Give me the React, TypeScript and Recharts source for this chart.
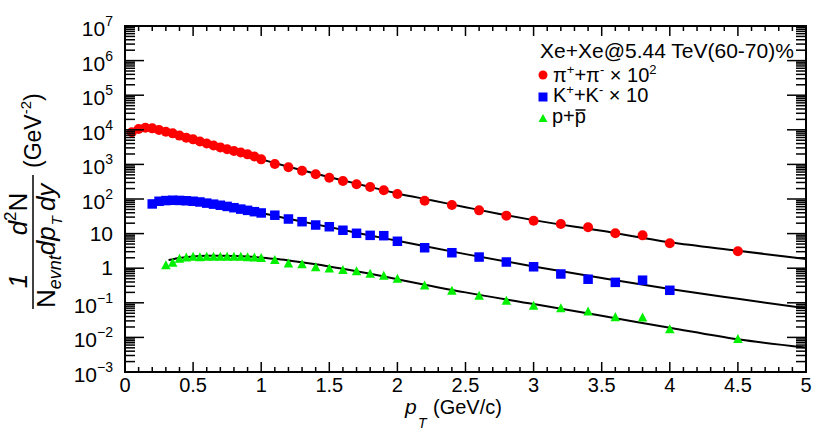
import React from "react";
import {
  ComposedChart,
  Scatter,
  Line,
  XAxis,
  YAxis,
  ReferenceArea,
} from "recharts";

// measured points, pT in GeV/c
const pionPt = [
  0.05, 0.1, 0.15, 0.2, 0.25, 0.3, 0.35, 0.4, 0.45, 0.5,
  0.55, 0.6, 0.65, 0.7, 0.75, 0.8, 0.85, 0.9, 0.95, 1.0,
  1.1, 1.2, 1.3, 1.4, 1.5, 1.6, 1.7, 1.8, 1.9, 2.0,
  2.2, 2.4, 2.6, 2.8, 3.0, 3.2, 3.4, 3.6, 3.8, 4.0, 4.5,
];
const pionVal = [
  8450, 10500, 11500, 11000, 9900, 8800, 7900, 6800, 5900, 5300,
  4600, 4000, 3500, 3100, 2750, 2450, 2200, 1950, 1700, 1400,
  1030, 824, 658, 518, 413, 331, 266, 222, 179, 140,
  89, 67, 47, 33, 23.6, 18.9, 15.2, 10.2, 8.9, 5.25, 3.08,
];

const kaonPt = [
  0.2, 0.25, 0.3, 0.35, 0.4, 0.45, 0.5, 0.55, 0.6, 0.65, 0.7, 0.75, 0.8, 0.85, 0.9, 0.95, 1.0,
  1.1, 1.2, 1.3, 1.4, 1.5, 1.6, 1.7, 1.8, 1.9, 2.0,
  2.2, 2.4, 2.6, 2.8, 3.0, 3.2, 3.4, 3.6, 3.8, 4.0,
];
const kaonVal = [
  72, 86, 90, 92, 91, 89, 86, 82, 76, 71, 66, 61, 56, 51, 47, 43, 39.5,
  34, 26.4, 22.1, 17.7, 15.8, 12.5, 10.2, 8.9, 8.7, 6.0,
  3.9, 2.8, 2.1, 1.51, 1.1, 0.68, 0.48, 0.39, 0.45, 0.23,
];

const protonPt = [
  0.3, 0.35, 0.4, 0.45, 0.5, 0.55, 0.6, 0.65, 0.7, 0.75, 0.8, 0.85, 0.9, 0.95, 1.0,
  1.1, 1.2, 1.3, 1.4, 1.5, 1.6, 1.7, 1.8, 1.9, 2.0,
  2.2, 2.4, 2.6, 2.8, 3.0, 3.2, 3.4, 3.6, 3.8, 4.0, 4.5,
];
const protonVal = [
  1.2, 1.42, 1.85, 2.0, 2.1, 2.05, 2.1, 2.1, 2.1, 2.1, 2.1, 2.1, 2.05, 2.0, 1.95,
  1.7, 1.35, 1.28, 1.05, 0.97, 0.88, 0.8, 0.68, 0.6, 0.49,
  0.31, 0.22, 0.157, 0.113, 0.081, 0.069, 0.055, 0.038, 0.037, 0.017, 0.0088,
];

// fit curves
const pionFitPt = [0.52, 0.6, 0.7, 0.8, 0.9, 1.0, 1.2, 1.4, 1.6, 1.8, 2.0, 2.25, 2.5, 2.75, 3.0, 3.5, 4.0, 4.5, 5.0];
const pionFitVal = [4600, 3700, 2900, 2300, 1800, 1400, 860, 540, 345, 222, 145, 92, 58, 37, 24.5, 12, 5.6, 3.2, 1.85];

const kaonFitPt = [0.22, 0.3, 0.4, 0.5, 0.6, 0.7, 0.8, 0.9, 1.0, 1.2, 1.4, 1.6, 1.8, 2.0, 2.5, 3.0, 3.5, 4.0, 4.5, 5.0];
const kaonFitVal = [75, 88, 92, 88, 77, 66, 56, 47, 39.5, 27, 18.5, 12.8, 8.8, 6.2, 2.55, 1.12, 0.52, 0.25, 0.13, 0.069];

const protonFitPt = [0.32, 0.4, 0.5, 0.6, 0.7, 0.8, 0.9, 1.0, 1.1, 1.2, 1.4, 1.6, 1.8, 2.0, 2.5, 3.0, 3.5, 4.0, 4.5, 5.0];
const protonFitVal = [1.72, 1.98, 2.18, 2.28, 2.3, 2.27, 2.18, 2.03, 1.87, 1.68, 1.3, 0.96, 0.69, 0.48, 0.2, 0.092, 0.042, 0.019, 0.0088, 0.0051];

const xTicks = [
  0, 0.1, 0.2, 0.3, 0.4, 0.5, 0.6, 0.7, 0.8, 0.9, 1, 1.1, 1.2, 1.3, 1.4, 1.5, 1.6, 1.7, 1.8, 1.9,
  2, 2.1, 2.2, 2.3, 2.4, 2.5, 2.6, 2.7, 2.8, 2.9, 3, 3.1, 3.2, 3.3, 3.4, 3.5, 3.6, 3.7, 3.8, 3.9,
  4, 4.1, 4.2, 4.3, 4.4, 4.5, 4.6, 4.7, 4.8, 4.9, 5,
];
const yDecades = [-3, -2, -1, 0, 1, 2, 3, 4, 5, 6, 7];
const yTicks: number[] = [];
yDecades.forEach((e) => {
  yTicks.push(Math.pow(10, e));
  if (e < 7) [2, 3, 4, 5, 6, 7, 8, 9].forEach((m) => yTicks.push(m * Math.pow(10, e)));
});

const zip = (xs: number[], ys: number[]) => xs.map((x, i) => ({ x, y: ys[i] }));

const W = 830;
const H = 438;
const PLOT_L = 125;
const PLOT_R = 806;
const PLOT_T = 26;
const PLOT_B = 372;
const FONT = "'Liberation Sans', Arial, Helvetica, sans-serif";
const RED = "#ff0000";
const BLUE = "#0000ff";
const GREEN = "#00f000";

const XTick = (props: any) => {
  const { x, payload } = props;
  const v = payload.value;
  const major = Math.abs(v * 2 - Math.round(v * 2)) < 1e-6;
  const len = major ? 10 : 5;
  return (
    <g>
      <line x1={x} x2={x} y1={PLOT_B} y2={PLOT_B - len} stroke="#000" strokeWidth={1.5} />
      <line x1={x} x2={x} y1={PLOT_T} y2={PLOT_T + len} stroke="#000" strokeWidth={1.5} />
      {major && (
        <text x={x} y={392} textAnchor="middle" fontSize={20} fontFamily={FONT} fill="#000">
          {String(Math.round(v * 10) / 10)}
        </text>
      )}
    </g>
  );
};

const YTick = (props: any) => {
  const { y, payload } = props;
  const v = payload.value;
  const e = Math.round(Math.log10(v));
  const major = Math.abs(v / Math.pow(10, e) - 1) < 1e-6;
  const len = major ? 19 : 10;
  let label: React.ReactNode = null;
  if (major) {
    if (e === 0 || e === 1) {
      label = (
        <text x={PLOT_L - 12} y={y + 7} textAnchor="end" fontSize={21} fontFamily={FONT} fill="#000">
          {e === 0 ? "1" : "10"}
        </text>
      );
    } else {
      label = (
        <text x={PLOT_L - 12} y={y + 10} textAnchor="end" fontSize={21} fontFamily={FONT} fill="#000">
          10
          <tspan fontSize={14} dy={-10}>
            {e < 0 ? "\u2212" + Math.abs(e) : String(e)}
          </tspan>
        </text>
      );
    }
  }
  return (
    <g>
      <line x1={PLOT_L} x2={PLOT_L + len} y1={y} y2={y} stroke="#000" strokeWidth={1.5} />
      <line x1={PLOT_R} x2={PLOT_R - len} y1={y} y2={y} stroke="#000" strokeWidth={1.5} />
      {label}
    </g>
  );
};

const circle = (color: string, r: number) => (p: any) => <circle cx={p.cx} cy={p.cy} r={r} fill={color} />;
const square = (color: string, s: number) => (p: any) => (
  <rect x={p.cx - s / 2} y={p.cy - s / 2} width={s} height={s} fill={color} />
);
const triangle = (color: string, s: number) => (p: any) => (
  <polygon
    points={`${p.cx},${p.cy - s * 0.55} ${p.cx - s / 2},${p.cy + s * 0.4} ${p.cx + s / 2},${p.cy + s * 0.4}`}
    fill={color}
  />
);

function Overlay() {
  return (
    <svg width={W} height={H} style={{ position: "absolute", left: 0, top: 0, pointerEvents: "none" }}>
      {/* y title, rotated: local x runs upward along the axis */}
      <g transform="translate(33,309) rotate(-90)" fontFamily={FONT} fill="#000">
        <line x1={0} y1={0} x2={134} y2={0} stroke="#000" strokeWidth={1.5} />
        <text x={28} y={-6} fontSize={26} fontStyle="italic" textAnchor="middle">1</text>
        <text x={95} y={-6} fontSize={26} textAnchor="middle">
          <tspan fontStyle="italic">d</tspan>
          <tspan fontSize={17} dy={-11}>2</tspan>
          <tspan dy={11}>N</tspan>
        </text>
        <text x={1} y={22} fontSize={26}>
          N
          <tspan fontSize={18} fontStyle="italic" dy={6}>evnt</tspan>
          <tspan fontStyle="italic" dy={-6}>dp</tspan>
          <tspan fontSize={15} fontStyle="italic" dy={7} dx={1}>T</tspan>
          <tspan fontStyle="italic" dy={-7} dx={5}>dy</tspan>
        </text>
        <text x={141} y={8} fontSize={23}>
          (GeV
          <tspan fontSize={15} dy={-10}>-2</tspan>
          <tspan dy={10}>)</tspan>
        </text>
      </g>

      {/* x title */}
      <g fontFamily={FONT} fill="#000">
        <text x={405} y={414} fontSize={21} fontStyle="italic">p</text>
        <text x={418} y={428} fontSize={14} fontStyle="italic">T</text>
        <text x={433} y={414} fontSize={20}>(GeV/c)</text>
      </g>

      {/* legend */}
      <g fontFamily={FONT} fill="#000" fontSize={20}>
        <text x={540} y={58} fontSize={21}>Xe+Xe@5.44 TeV(60-70)%</text>
        <circle cx={543} cy={75} r={4.5} fill={RED} />
        <text x={553} y={82}>
          π<tspan fontSize={13} dy={-8}>+</tspan>
          <tspan dy={8}>+π</tspan>
          <tspan fontSize={13} dy={-8}>-</tspan>
          <tspan dy={8}> × 10</tspan>
          <tspan fontSize={13} dy={-8}>2</tspan>
        </text>
        <rect x={538.5} y={92.5} width={9} height={9} fill={BLUE} />
        <text x={553} y={102}>
          K<tspan fontSize={13} dy={-8}>+</tspan>
          <tspan dy={8}>+K</tspan>
          <tspan fontSize={13} dy={-8}>-</tspan>
          <tspan dy={8}> × 10</tspan>
        </text>
        <polygon points="543,114 538.5,122 547.5,122" fill={GREEN} />
        <text x={552} y={123}>p+p</text>
        <line x1={575.5} x2={585.5} y1={110} y2={110} stroke="#000" strokeWidth={1.5} />
      </g>
    </svg>
  );
}

export default function App() {
  return (
    <div style={{ position: "relative", width: W, height: H, background: "#fff" }}>
      <style>{`body{margin:0}`}</style>
      <ComposedChart width={W} height={H} margin={{ top: PLOT_T, right: W - PLOT_R, bottom: 0, left: 0 }}>
        <XAxis
          dataKey="x"
          type="number"
          domain={[0, 5]}
          ticks={xTicks}
          interval={0}
          tick={XTick}
          tickLine={false}
          axisLine={false}
          height={H - PLOT_B}
          allowDataOverflow
        />
        <YAxis
          dataKey="y"
          type="number"
          scale="log"
          domain={[1e-3, 1e7]}
          ticks={yTicks}
          interval={0}
          tick={YTick}
          tickLine={false}
          axisLine={false}
          width={PLOT_L}
          allowDataOverflow
        />
        <Scatter data={zip(pionPt, pionVal)} shape={circle(RED, 5)} isAnimationActive={false} />
        <Scatter data={zip(kaonPt, kaonVal)} shape={square(BLUE, 9.5)} isAnimationActive={false} />
        <Scatter data={zip(protonPt, protonVal)} shape={triangle(GREEN, 9.5)} isAnimationActive={false} />
        <Line data={zip(pionFitPt, pionFitVal)} dataKey="y" type="monotone" dot={false} activeDot={false} stroke="#000" strokeWidth={2} isAnimationActive={false} />
        <Line data={zip(kaonFitPt, kaonFitVal)} dataKey="y" type="monotone" dot={false} activeDot={false} stroke="#000" strokeWidth={2} isAnimationActive={false} />
        <Line data={zip(protonFitPt, protonFitVal)} dataKey="y" type="monotone" dot={false} activeDot={false} stroke="#000" strokeWidth={2} isAnimationActive={false} />
        <ReferenceArea x1={0} x2={5} y1={1e-3} y2={1e7} fill="none" stroke="#000" strokeWidth={2} ifOverflow="visible" />
      </ComposedChart>
      <Overlay />
    </div>
  );
}
